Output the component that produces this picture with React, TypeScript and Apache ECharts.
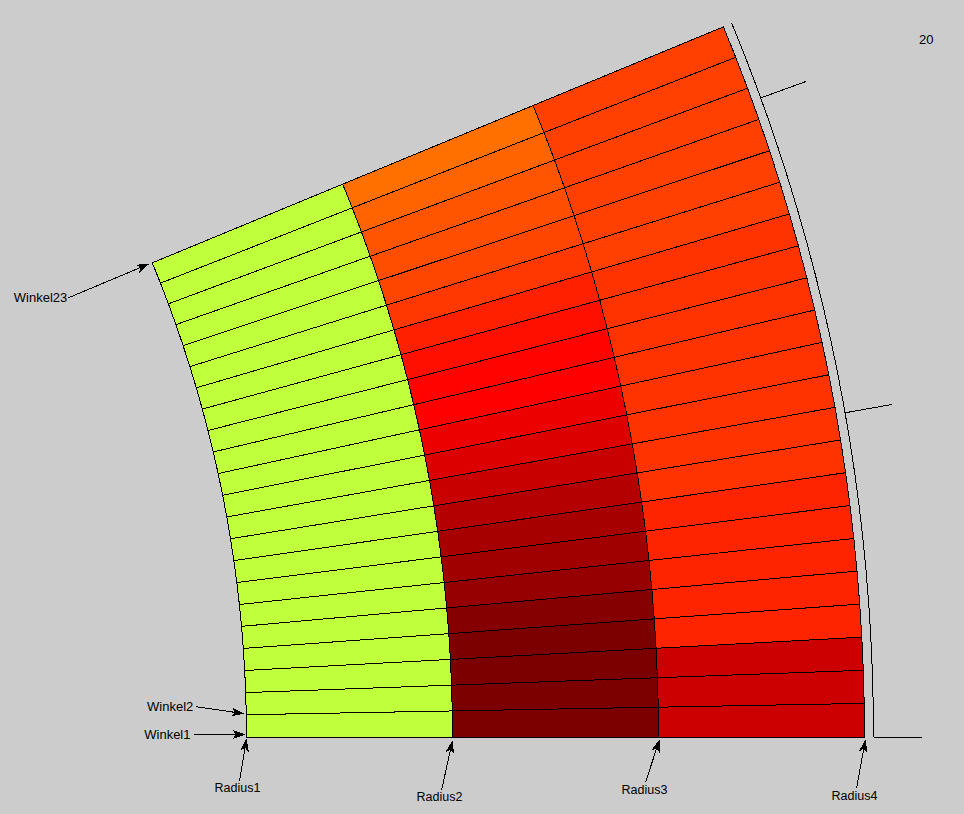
import React, { useEffect, useRef } from "react";
import * as echarts from "echarts";

// Radii of the ring boundaries and angles (degrees) of the ray boundaries
const radii = [1243, 1449, 1655, 1861];
const angles = [
  0, 1.05, 2.07, 3.09, 4.11, 5.13, 6.14, 7.16, 8.18, 9.2, 10.22, 11.24,
  12.26, 13.28, 14.3, 15.32, 16.34, 17.36, 18.38, 19.4, 20.42, 21.44, 22.45,
];
// Cell values per ring, row 1 (bottom) to row 22 (top)
const ring1Values = [
  700, 700, 700, 700, 700, 700, 700, 700, 700, 700, 700,
  700, 700, 700, 700, 700, 700, 700, 700, 700, 700, 700,
];
const ring2Values = [
  124, 124, 124, 124, 133, 150, 160, 166, 180, 200, 220,
  236, 255, 258, 270, 287, 310, 325, 333, 340, 355, 367,
];
const ring3Values = [
  204, 204, 204, 291, 291, 291, 291, 291, 306, 306, 306,
  306, 306, 306, 306, 306, 319, 319, 319, 319, 319, 319,
];
const scaleTicks = [0, 10, 20];
const scaleRadius = 1870;
const scaleTickEnd = 1918;
const radiusLabels = ["Radius1", "Radius2", "Radius3", "Radius4"];
const angleLabels = [
  { label: "Winkel1", index: 0 },
  { label: "Winkel2", index: 1 },
  { label: "Winkel23", index: 22 },
];
const cornerLabel = "20";

const W = 964;
const H = 814;
const CX = -996.5; // page x of the sector's centre
const CY = 737.5; // page y of the sector's centre
const FONT = "Liberation Sans";

function colorOf(v: number): string {
  if (v > 511) return "#bfff3c";
  if (v <= 255) return `rgb(${v},0,0)`;
  return `rgb(255,${v - 255},0)`;
}

function polar(r: number, a: number): [number, number] {
  const t = (a * Math.PI) / 180;
  return [r * Math.cos(t), r * Math.sin(t)];
}

const rings = [ring1Values, ring2Values, ring3Values];
const cells: number[][] = [];
rings.forEach((vals, ring) =>
  vals.forEach((v, row) => cells.push([ring, row, v]))
);

// Page-pixel offsets of each callout from its anchor: tail of arrow, label centre
const radiusCallouts = [
  { tip: [0, 1], tail: [-7, 44], text: [-9, 50] },
  { tip: [0, 3], tail: [-11, 53], text: [-13, 59] },
  { tip: [1, 2], tail: [-13, 45], text: [-14, 52] },
  { tip: [1, 2], tail: [-8, 51], text: [-10, 58] },
];
const angleCallouts = [
  { ring: 0, tip: [-1, -3], tail: [-53, -3], text: [-56, -3] },
  { ring: 0, tip: [-2, -1], tail: [-50, -8], text: [-53, -8] },
  { ring: 0, tip: [-3, 1], tail: [-84, 35], text: [-85, 35] },
];

function arrow(tip: number[], tail: number[]) {
  const dx = tip[0] - tail[0];
  const dy = tip[1] - tail[1];
  const len = Math.hypot(dx, dy);
  const ux = dx / len;
  const uy = dy / len;
  const at = (along: number, side: number) => [
    tip[0] - ux * along - uy * side,
    tip[1] - uy * along + ux * side,
  ];
  return [
    {
      type: "line",
      shape: { x1: tail[0], y1: tail[1], x2: at(6, 0)[0], y2: at(6, 0)[1] },
      style: { stroke: "#000", lineWidth: 1 },
    },
    {
      type: "polygon",
      shape: { points: [tip, at(13, 4.5), at(9.5, 0), at(13, -4.5)] },
      style: { fill: "#000", stroke: "none" },
    },
  ];
}

function label(text: string, pos: number[], align: string, size: number) {
  return {
    type: "text",
    x: pos[0],
    y: pos[1],
    style: {
      text,
      fill: "#000",
      font: `${size}px "${FONT}"`,
      align,
      verticalAlign: "middle",
    },
  };
}

export default function App() {
  const ref = useRef<HTMLDivElement>(null);
  useEffect(() => {
    const chart = echarts.init(ref.current!, undefined, {
      renderer: "svg",
      width: W,
      height: H,
    });
    const hidden = { show: false };
    chart.setOption({
      animation: false,
      backgroundColor: "#cccccc",
      grid: { left: 0, top: 0, width: W, height: H },
      xAxis: {
        type: "value",
        min: -CX,
        max: W - CX,
        axisLine: hidden,
        axisTick: hidden,
        axisLabel: hidden,
        splitLine: hidden,
      },
      yAxis: {
        type: "value",
        min: CY - H,
        max: CY,
        axisLine: hidden,
        axisTick: hidden,
        axisLabel: hidden,
        splitLine: hidden,
      },
      series: [
        {
          type: "custom",
          coordinateSystem: "cartesian2d",
          clip: false,
          silent: true,
          encode: { x: [], y: [] },
          data: cells,
          renderItem: (_p: any, api: any) => {
            const ring = api.value(0);
            const row = api.value(1);
            const pts = [
              polar(radii[ring], angles[row]),
              polar(radii[ring + 1], angles[row]),
              polar(radii[ring + 1], angles[row + 1]),
              polar(radii[ring], angles[row + 1]),
            ].map((p) => api.coord(p));
            return {
              type: "polygon",
              shape: { points: pts },
              style: {
                fill: colorOf(api.value(2)),
                stroke: "#000",
                lineWidth: 1,
              },
            };
          },
        },
        {
          type: "custom",
          coordinateSystem: "cartesian2d",
          clip: false,
          silent: true,
          encode: { x: [], y: [] },
          data: [[0]],
          renderItem: (_p: any, api: any) => {
            const children: any[] = [];
            // scale arc and its ticks
            children.push({
              type: "polyline",
              shape: {
                points: angles.map((a) => api.coord(polar(scaleRadius, a))),
              },
              style: { stroke: "#000", lineWidth: 1, fill: "none" },
            });
            scaleTicks.forEach((a) => {
              const p = api.coord(polar(scaleRadius, a));
              const q = api.coord(polar(scaleTickEnd, a));
              children.push({
                type: "line",
                shape: { x1: p[0], y1: p[1], x2: q[0], y2: q[1] },
                style: { stroke: "#000", lineWidth: 1 },
              });
            });
            // callouts for the radii
            radiusLabels.forEach((text, i) => {
              const a = api.coord(polar(radii[i], 0));
              const c = radiusCallouts[i];
              const off = (o: number[]) => [a[0] + o[0], a[1] + o[1]];
              children.push(...arrow(off(c.tip), off(c.tail)));
              children.push(label(text, off(c.text), "center", 12.5));
            });
            // callouts for the angles
            angleLabels.forEach((item, i) => {
              const c = angleCallouts[i];
              const a = api.coord(polar(radii[c.ring], angles[item.index]));
              const off = (o: number[]) => [a[0] + o[0], a[1] + o[1]];
              children.push(...arrow(off(c.tip), off(c.tail)));
              children.push(label(item.label, off(c.text), "right", 13));
            });
            children.push(label(cornerLabel, [919, 39], "left", 13));
            return { type: "group", children };
          },
        },
      ],
    });
    return () => chart.dispose();
  }, []);
  return (
    <>
      <style>{`html,body{margin:0;background:#cccccc}
        svg path, svg polygon, svg polyline, svg line {shape-rendering:crispEdges}`}</style>
      <div
        ref={ref}
        style={{ position: "absolute", left: 0, top: 0, width: W, height: H }}
      />
    </>
  );
}
